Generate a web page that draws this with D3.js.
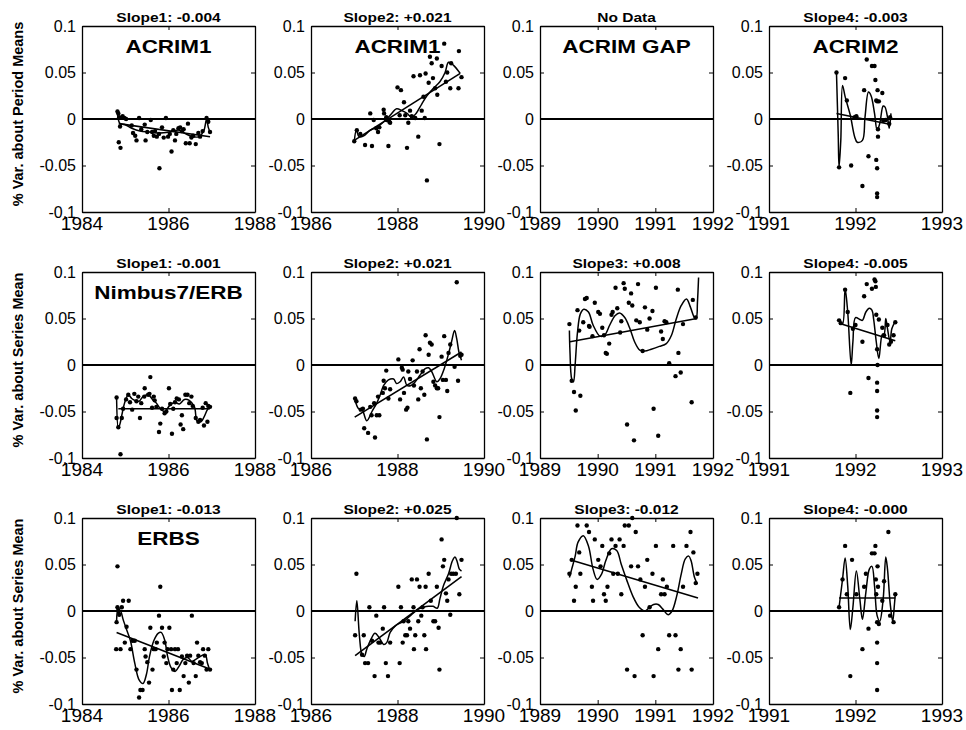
<!DOCTYPE html>
<html><head><meta charset="utf-8">
<script src="https://cdn.jsdelivr.net/npm/d3@7"></script>
<style>body{margin:0;background:#fff}svg{display:block;font-family:"Liberation Sans",Arial,Helvetica,sans-serif}</style>
</head><body><svg id="c" width="966" height="730"></svg>
<script>
// ---------------- DATA ----------------
const rowYLabels = ["% Var. about Period Means", "% Var. about Series Mean", "% Var. about Series Mean"];
const panelTitles = [
  ["Slope1: -0.004", "Slope2: +0.021", "No Data", "Slope4: -0.003"],
  ["Slope1: -0.001", "Slope2: +0.021", "Slope3: +0.008", "Slope4: -0.005"],
  ["Slope1: -0.013", "Slope2: +0.025", "Slope3: -0.012", "Slope4: -0.000"]
];
const panelNames = [
  ["ACRIM1", "ACRIM1", "ACRIM GAP", "ACRIM2"],
  ["Nimbus7/ERB", "", "", ""],
  ["ERBS", "", "", ""]
];
const xDomains = [[1984, 1988], [1986, 1990], [1989, 1992], [1991, 1993]];
const xTickValues = [[1984, 1986, 1988], [1986, 1988, 1990], [1989, 1990, 1991, 1992], [1991, 1992, 1993]];
const yTickValues = [-0.1, -0.05, 0, 0.05, 0.1];
const yTickLabels = ["-0.1", "-0.05", "0", "0.05", "0.1"];

// Row 1: ACRIM
const r1c1Dots = [[1984.82,0.008],[1984.84,0.006],[1984.86,0.002],[1984.88,-0.008],[1984.85,-0.025],[1984.89,-0.031],[1984.94,0.003],[1984.98,0.001],[1985.02,0.000],[1985.15,-0.007],[1985.18,-0.015],[1985.23,-0.018],[1985.26,-0.023],[1985.32,0.001],[1985.37,-0.011],[1985.45,-0.006],[1985.47,-0.023],[1985.51,-0.014],[1985.59,-0.001],[1985.62,-0.014],[1985.66,-0.018],[1985.69,-0.013],[1985.73,-0.019],[1985.78,-0.016],[1985.79,-0.053],[1985.85,-0.009],[1985.89,-0.020],[1985.94,0.001],[1985.99,-0.019],[1986.03,-0.016],[1986.07,-0.035],[1986.11,-0.012],[1986.15,-0.023],[1986.18,-0.016],[1986.23,-0.010],[1986.27,-0.009],[1986.31,-0.013],[1986.35,-0.011],[1986.40,-0.026],[1986.45,-0.005],[1986.49,-0.026],[1986.53,-0.020],[1986.57,-0.018],[1986.63,-0.027],[1986.69,-0.015],[1986.73,-0.019],[1986.79,-0.013],[1986.88,0.001],[1986.92,-0.003],[1986.96,-0.014]];
const r1c1Smooth = [[1984.82,0.006],[1984.88,-0.005],[1984.99,-0.006],[1985.15,-0.010],[1985.34,-0.013],[1985.56,-0.014],[1985.79,-0.015],[1986.02,-0.014],[1986.25,-0.012],[1986.40,-0.016],[1986.56,-0.019],[1986.71,-0.019],[1986.82,-0.012],[1986.88,0.000],[1986.92,-0.009],[1986.96,-0.014]];
const r1c1Trend = [[1984.85,-0.005],[1986.96,-0.019]];

const r1c2Dots = [[1987.0,-0.024],[1987.06,-0.012],[1987.14,-0.016],[1987.25,-0.028],[1987.37,0.006],[1987.41,-0.029],[1987.45,-0.001],[1987.51,-0.010],[1987.55,-0.014],[1987.58,-0.009],[1987.68,0.010],[1987.69,0.006],[1987.74,0.002],[1987.75,-0.001],[1987.79,-0.029],[1987.81,-0.003],[1987.83,-0.004],[1988.0,0.034],[1988.08,0.031],[1988.05,0.004],[1988.15,0.018],[1988.18,0.004],[1988.22,-0.031],[1988.25,-0.004],[1988.29,0.009],[1988.33,0.003],[1988.37,0.046],[1988.41,0.001],[1988.48,-0.019],[1988.52,0.047],[1988.56,0.009],[1988.6,0.024],[1988.63,0.001],[1988.65,0.049],[1988.68,-0.066],[1988.72,0.039],[1988.75,0.067],[1988.79,0.060],[1988.82,0.044],[1988.87,0.033],[1988.91,0.065],[1988.92,0.026],[1988.97,-0.027],[1989.02,0.057],[1989.08,0.081],[1989.12,0.040],[1989.15,0.050],[1989.22,0.033],[1989.24,0.060],[1989.41,0.033],[1989.42,0.073],[1989.48,0.045]];
const r1c2Smooth = [[1987.0,-0.024],[1987.05,-0.012],[1987.11,-0.019],[1987.22,-0.018],[1987.37,-0.012],[1987.52,-0.009],[1987.68,-0.003],[1987.83,0.004],[1987.98,0.011],[1988.10,0.009],[1988.22,0.006],[1988.33,0.002],[1988.43,0.006],[1988.56,0.016],[1988.68,0.025],[1988.83,0.033],[1988.98,0.040],[1989.10,0.050],[1989.18,0.061],[1989.29,0.058],[1989.45,0.049]];
const r1c2Trend = [[1987.0,-0.023],[1989.45,0.049]];

const r1c4Dots = [[1991.78,0.050],[1991.81,-0.052],[1991.88,0.044],[1991.90,0.020],[1991.95,-0.050],[1991.99,0.002],[1992.01,0.003],[1992.08,-0.072],[1992.10,0.031],[1992.13,0.064],[1992.15,-0.040],[1992.19,0.057],[1992.22,0.057],[1992.23,0.042],[1992.24,0.020],[1992.25,0.019],[1992.24,-0.044],[1992.25,-0.053],[1992.25,-0.080],[1992.25,-0.084],[1992.255,0.031],[1992.26,-0.019],[1992.27,0.019],[1992.26,-0.011],[1992.31,0.028],[1992.32,-0.002],[1992.35,-0.001],[1992.39,-0.005],[1992.40,0.002]];
const r1c4Smooth = [[1991.78,0.050],[1991.80,-0.016],[1991.81,-0.052],[1991.83,-0.023],[1991.85,0.036],[1991.88,0.024],[1991.94,0.004],[1991.99,-0.019],[1992.02,-0.025],[1992.08,-0.023],[1992.11,0.002],[1992.15,0.029],[1992.18,0.025],[1992.22,0.006],[1992.25,-0.012],[1992.28,-0.005],[1992.32,0.014],[1992.34,0.013],[1992.37,0.002],[1992.39,-0.010],[1992.41,0.006]];
const r1c4Trend = [[1991.78,0.006],[1992.41,-0.006]];

// Row 2: Nimbus7/ERB
const r2c1Dots = [[1984.80,-0.035],[1984.80,-0.057],[1984.84,-0.067],[1984.89,-0.096],[1984.92,-0.057],[1984.95,-0.047],[1985.02,-0.037],[1985.07,-0.032],[1985.11,-0.040],[1985.16,-0.048],[1985.21,-0.031],[1985.26,-0.039],[1985.30,-0.034],[1985.34,-0.057],[1985.37,-0.041],[1985.44,-0.034],[1985.45,-0.025],[1985.53,-0.032],[1985.56,-0.031],[1985.58,-0.013],[1985.62,-0.046],[1985.66,-0.034],[1985.68,-0.038],[1985.72,-0.045],[1985.78,-0.072],[1985.81,-0.063],[1985.85,-0.047],[1985.91,-0.052],[1985.95,-0.050],[1986.01,-0.025],[1986.04,-0.042],[1986.08,-0.074],[1986.11,-0.047],[1986.15,-0.040],[1986.19,-0.036],[1986.24,-0.037],[1986.28,-0.064],[1986.31,-0.054],[1986.34,-0.069],[1986.39,-0.032],[1986.44,-0.032],[1986.48,-0.041],[1986.53,-0.034],[1986.56,-0.044],[1986.63,-0.057],[1986.69,-0.061],[1986.73,-0.059],[1986.79,-0.046],[1986.82,-0.065],[1986.86,-0.041],[1986.90,-0.061],[1986.92,-0.044],[1986.96,-0.045]];
const r2c1Smooth = [[1984.80,-0.036],[1984.84,-0.068],[1984.88,-0.063],[1984.92,-0.054],[1984.99,-0.040],[1985.07,-0.032],[1985.15,-0.036],[1985.22,-0.038],[1985.32,-0.039],[1985.41,-0.034],[1985.53,-0.032],[1985.63,-0.037],[1985.72,-0.041],[1985.81,-0.047],[1985.91,-0.050],[1986.02,-0.044],[1986.14,-0.040],[1986.25,-0.042],[1986.37,-0.037],[1986.48,-0.038],[1986.60,-0.045],[1986.66,-0.060],[1986.75,-0.061],[1986.82,-0.056],[1986.90,-0.048],[1986.96,-0.045]];
const r2c1Trend = [[1984.84,-0.047],[1986.96,-0.047]];

const r2c2Dots = [[1987.02,-0.036],[1987.05,-0.039],[1987.15,-0.048],[1987.20,-0.047],[1987.23,-0.068],[1987.32,-0.073],[1987.37,-0.045],[1987.40,-0.054],[1987.46,-0.041],[1987.48,-0.078],[1987.52,-0.054],[1987.58,-0.054],[1987.55,-0.034],[1987.66,-0.030],[1987.68,-0.017],[1987.71,-0.025],[1987.74,-0.006],[1987.79,-0.036],[1987.83,-0.026],[1988.02,0.006],[1988.06,-0.037],[1988.10,-0.003],[1988.12,-0.005],[1988.15,-0.030],[1988.20,-0.048],[1988.23,-0.046],[1988.25,-0.007],[1988.29,-0.015],[1988.35,0.005],[1988.38,-0.022],[1988.45,-0.007],[1988.48,-0.037],[1988.51,0.017],[1988.54,-0.025],[1988.58,-0.007],[1988.62,-0.032],[1988.65,0.032],[1988.68,-0.080],[1988.72,0.011],[1988.75,0.024],[1988.79,0.022],[1988.83,-0.018],[1988.87,-0.022],[1988.91,-0.025],[1988.94,-0.025],[1988.97,-0.056],[1989.02,0.009],[1989.05,-0.016],[1989.08,0.031],[1989.12,-0.016],[1989.15,-0.028],[1989.18,0.013],[1989.22,0.022],[1989.32,-0.002],[1989.37,0.089],[1989.40,-0.017],[1989.45,0.010],[1989.48,0.011]];
const r2c2Smooth = [[1987.01,-0.036],[1987.10,-0.047],[1987.18,-0.048],[1987.29,-0.060],[1987.41,-0.050],[1987.52,-0.041],[1987.60,-0.032],[1987.68,-0.022],[1987.79,-0.016],[1987.91,-0.015],[1987.98,-0.020],[1988.06,-0.018],[1988.14,-0.013],[1988.22,-0.022],[1988.31,-0.022],[1988.41,-0.018],[1988.52,-0.011],[1988.64,-0.004],[1988.72,-0.003],[1988.79,-0.007],[1988.91,-0.018],[1988.98,-0.015],[1989.08,-0.004],[1989.18,0.012],[1989.25,0.025],[1989.32,0.037],[1989.37,0.028],[1989.42,0.014],[1989.48,0.005]];
const r2c2Trend = [[1987.01,-0.056],[1989.48,0.014]];

const r2c3Dots = [[1989.51,0.044],[1989.55,-0.017],[1989.59,-0.029],[1989.62,-0.049],[1989.65,0.059],[1989.68,0.037],[1989.70,-0.033],[1989.75,0.046],[1989.78,0.071],[1989.81,0.072],[1989.85,0.042],[1989.86,0.041],[1989.91,0.031],[1989.95,0.067],[1990.01,0.057],[1990.04,0.055],[1990.08,0.040],[1990.11,0.032],[1990.14,0.013],[1990.16,0.012],[1990.20,0.023],[1990.24,0.054],[1990.26,0.057],[1990.31,0.083],[1990.34,0.061],[1990.39,0.035],[1990.41,0.047],[1990.45,0.088],[1990.47,0.082],[1990.51,-0.064],[1990.54,0.067],[1990.58,0.077],[1990.60,0.064],[1990.63,-0.081],[1990.67,0.048],[1990.70,0.087],[1990.73,0.046],[1990.78,0.015],[1990.82,0.062],[1990.86,0.038],[1990.90,0.050],[1990.95,0.058],[1990.97,-0.047],[1991.01,0.083],[1991.05,-0.076],[1991.10,0.036],[1991.13,0.028],[1991.16,0.047],[1991.19,0.046],[1991.24,0.002],[1991.35,-0.012],[1991.39,0.081],[1991.40,0.013],[1991.44,-0.008],[1991.48,0.044],[1991.63,-0.040],[1991.65,0.070],[1991.70,0.051]];
const r2c3Smooth = [[1989.51,0.037],[1989.52,0.014],[1989.55,-0.015],[1989.58,-0.018],[1989.61,0.001],[1989.65,0.035],[1989.70,0.055],[1989.76,0.060],[1989.84,0.057],[1989.92,0.043],[1990.04,0.031],[1990.12,0.032],[1990.21,0.043],[1990.30,0.053],[1990.38,0.056],[1990.47,0.051],[1990.56,0.039],[1990.64,0.025],[1990.73,0.016],[1990.82,0.015],[1990.93,0.017],[1991.07,0.020],[1991.19,0.023],[1991.28,0.032],[1991.36,0.049],[1991.45,0.064],[1991.54,0.071],[1991.61,0.062],[1991.68,0.051],[1991.71,0.051],[1991.73,0.067],[1991.75,0.094]];
const r2c3Trend = [[1989.52,0.025],[1991.72,0.050]];

const r2c4Dots = [[1991.81,0.048],[1991.83,0.045],[1991.88,0.081],[1991.91,0.057],[1991.94,-0.030],[1991.97,0.039],[1992.00,0.043],[1992.08,0.025],[1992.10,0.074],[1992.13,0.087],[1992.15,-0.014],[1992.19,0.082],[1992.22,0.092],[1992.23,0.090],[1992.235,0.084],[1992.24,0.054],[1992.25,-0.019],[1992.25,-0.028],[1992.25,-0.049],[1992.25,-0.056],[1992.255,0.000],[1992.25,0.017],[1992.27,0.049],[1992.31,0.040],[1992.33,0.032],[1992.37,0.043],[1992.39,0.022],[1992.41,0.025],[1992.44,0.032],[1992.46,0.046]];
const r2c4Smooth = [[1991.81,0.048],[1991.85,0.044],[1991.88,0.082],[1991.91,0.057],[1991.95,0.000],[1991.97,0.025],[1992.00,0.051],[1992.05,0.049],[1992.08,0.048],[1992.12,0.057],[1992.16,0.061],[1992.19,0.059],[1992.21,0.049],[1992.24,0.025],[1992.27,0.007],[1992.31,0.033],[1992.33,0.033],[1992.35,0.050],[1992.37,0.039],[1992.40,0.025],[1992.42,0.039],[1992.46,0.047]];
const r2c4Trend = [[1991.81,0.045],[1992.46,0.026]];

// Row 3: ERBS
const r3c1Dots = [[1984.82,0.048],[1984.80,-0.012],[1984.79,-0.041],[1984.82,0.004],[1984.84,0.001],[1984.86,-0.004],[1984.89,-0.041],[1984.92,0.004],[1984.95,0.011],[1984.99,-0.034],[1985.03,-0.017],[1985.08,0.011],[1985.12,-0.041],[1985.17,-0.032],[1985.22,-0.032],[1985.26,-0.063],[1985.32,-0.093],[1985.35,-0.085],[1985.40,-0.085],[1985.45,-0.041],[1985.47,-0.049],[1985.51,-0.055],[1985.55,-0.077],[1985.58,-0.018],[1985.63,-0.063],[1985.66,-0.041],[1985.70,-0.041],[1985.73,-0.034],[1985.78,-0.005],[1985.81,0.026],[1985.85,-0.018],[1985.89,-0.049],[1985.91,-0.034],[1985.95,-0.056],[1985.98,-0.041],[1986.02,-0.018],[1986.06,-0.041],[1986.08,-0.085],[1986.11,-0.063],[1986.15,-0.041],[1986.19,-0.056],[1986.22,-0.041],[1986.26,-0.085],[1986.31,-0.049],[1986.35,-0.070],[1986.39,-0.056],[1986.43,-0.048],[1986.47,-0.077],[1986.50,-0.048],[1986.54,-0.005],[1986.58,-0.056],[1986.63,-0.070],[1986.66,-0.034],[1986.69,-0.048],[1986.73,-0.055],[1986.77,-0.056],[1986.80,-0.041],[1986.84,-0.048],[1986.88,-0.063],[1986.92,-0.041],[1986.96,-0.063]];
const r3c1Smooth = [[1984.80,-0.011],[1984.82,0.001],[1984.85,-0.003],[1984.89,0.000],[1984.95,-0.009],[1985.03,-0.020],[1985.12,-0.032],[1985.22,-0.056],[1985.32,-0.074],[1985.41,-0.078],[1985.49,-0.068],[1985.56,-0.049],[1985.66,-0.032],[1985.76,-0.024],[1985.83,-0.023],[1985.91,-0.031],[1985.98,-0.049],[1986.06,-0.061],[1986.15,-0.065],[1986.25,-0.059],[1986.34,-0.052],[1986.44,-0.050],[1986.54,-0.054],[1986.63,-0.052],[1986.73,-0.049],[1986.85,-0.047],[1986.90,-0.056],[1986.95,-0.063]];
const r3c1Trend = [[1984.80,-0.023],[1986.98,-0.063]];

const r3c2Dots = [[1987.05,0.040],[1987.02,-0.026],[1987.18,-0.047],[1987.22,-0.026],[1987.25,-0.056],[1987.32,-0.056],[1987.35,0.004],[1987.41,-0.032],[1987.47,-0.070],[1987.51,-0.005],[1987.56,-0.034],[1987.60,-0.034],[1987.66,-0.019],[1987.69,0.004],[1987.73,-0.056],[1987.78,-0.070],[1987.83,-0.034],[1988.02,0.026],[1988.05,-0.056],[1988.08,0.004],[1988.12,-0.034],[1988.14,-0.011],[1988.18,-0.026],[1988.22,-0.026],[1988.25,-0.011],[1988.29,-0.019],[1988.33,0.034],[1988.37,0.004],[1988.38,-0.041],[1988.41,-0.026],[1988.45,0.034],[1988.48,-0.011],[1988.51,0.026],[1988.55,-0.005],[1988.58,0.004],[1988.62,-0.026],[1988.65,0.026],[1988.66,-0.041],[1988.72,0.040],[1988.77,0.011],[1988.83,-0.011],[1988.87,-0.011],[1988.91,0.026],[1988.95,-0.018],[1988.97,-0.063],[1989.02,0.077],[1989.05,0.048],[1989.08,0.055],[1989.12,0.019],[1989.15,0.011],[1989.18,0.034],[1989.22,-0.004],[1989.24,0.040],[1989.29,0.040],[1989.35,0.040],[1989.37,0.100],[1989.43,0.018],[1989.48,0.055]];
const r3c2Smooth = [[1987.02,-0.011],[1987.06,0.011],[1987.12,-0.027],[1987.18,-0.047],[1987.23,-0.049],[1987.29,-0.041],[1987.38,-0.031],[1987.48,-0.024],[1987.58,-0.029],[1987.68,-0.036],[1987.75,-0.034],[1987.83,-0.023],[1987.95,-0.016],[1988.06,-0.013],[1988.15,-0.011],[1988.25,-0.007],[1988.37,-0.002],[1988.48,0.002],[1988.60,0.004],[1988.72,0.005],[1988.82,0.005],[1988.92,0.003],[1988.98,0.013],[1989.06,0.027],[1989.18,0.040],[1989.27,0.054],[1989.33,0.058],[1989.38,0.053],[1989.43,0.045],[1989.48,0.043]];
const r3c2Trend = [[1987.02,-0.048],[1989.48,0.037]];

const r3c3Dots = [[1989.51,0.040],[1989.55,0.055],[1989.59,0.011],[1989.62,0.026],[1989.65,0.092],[1989.68,0.063],[1989.70,0.040],[1989.81,0.092],[1989.85,0.085],[1989.90,0.026],[1989.92,0.011],[1989.95,0.077],[1990.01,0.055],[1990.05,0.048],[1990.08,0.070],[1990.11,0.018],[1990.14,0.011],[1990.17,0.026],[1990.20,0.062],[1990.24,0.077],[1990.27,0.040],[1990.31,0.070],[1990.35,0.040],[1990.38,0.077],[1990.41,0.018],[1990.45,0.070],[1990.47,0.092],[1990.51,-0.063],[1990.54,0.092],[1990.58,0.048],[1990.60,0.100],[1990.64,-0.070],[1990.66,0.085],[1990.70,0.048],[1990.74,0.034],[1990.78,-0.026],[1990.82,0.026],[1990.86,0.055],[1990.90,0.004],[1990.95,0.040],[1990.97,-0.070],[1991.01,0.070],[1991.05,-0.041],[1991.10,0.018],[1991.13,0.034],[1991.16,0.018],[1991.20,0.026],[1991.24,-0.026],[1991.31,0.070],[1991.35,-0.026],[1991.40,-0.063],[1991.44,-0.041],[1991.48,0.026],[1991.54,0.070],[1991.61,0.085],[1991.63,-0.063],[1991.66,0.063],[1991.70,0.030],[1991.73,0.040]];
const r3c3Smooth = [[1989.51,0.036],[1989.55,0.045],[1989.61,0.059],[1989.66,0.074],[1989.75,0.081],[1989.84,0.070],[1989.92,0.045],[1989.99,0.034],[1990.07,0.040],[1990.14,0.054],[1990.24,0.067],[1990.33,0.065],[1990.41,0.050],[1990.50,0.034],[1990.61,0.016],[1990.72,0.004],[1990.82,0.000],[1990.90,0.004],[1990.97,0.007],[1991.05,0.007],[1991.13,0.002],[1991.22,-0.004],[1991.29,0.000],[1991.37,0.016],[1991.45,0.040],[1991.52,0.056],[1991.58,0.059],[1991.62,0.054],[1991.68,0.036],[1991.73,0.029]];
const r3c3Trend = [[1989.52,0.055],[1991.74,0.014]];

const r3c4Dots = [[1991.81,0.004],[1991.85,0.034],[1991.88,0.070],[1991.90,0.018],[1991.94,-0.070],[1991.96,0.055],[1992.01,0.018],[1992.08,-0.041],[1992.10,0.026],[1992.12,0.040],[1992.15,-0.019],[1992.19,0.062],[1992.22,0.062],[1992.23,0.070],[1992.235,0.034],[1992.24,0.018],[1992.25,-0.012],[1992.25,-0.034],[1992.25,-0.056],[1992.25,-0.085],[1992.255,0.048],[1992.26,0.026],[1992.27,-0.014],[1992.31,0.011],[1992.33,0.032],[1992.38,0.085],[1992.40,-0.005],[1992.44,-0.012],[1992.46,0.018]];
const r3c4Smooth = [[1991.81,0.004],[1991.85,0.034],[1991.88,0.057],[1991.91,0.027],[1991.94,-0.020],[1991.97,0.004],[1992.01,0.043],[1992.05,0.013],[1992.08,-0.009],[1992.12,0.020],[1992.16,0.045],[1992.19,0.048],[1992.22,0.027],[1992.25,-0.005],[1992.28,-0.011],[1992.32,0.013],[1992.35,0.058],[1992.37,0.045],[1992.40,0.009],[1992.43,-0.011],[1992.45,0.007],[1992.46,0.018]];
const r3c4Trend = [[1991.81,0.014],[1992.46,0.014]];

const panelDots = [[r1c1Dots, r1c2Dots, [], r1c4Dots],[r2c1Dots, r2c2Dots, r2c3Dots, r2c4Dots],[r3c1Dots, r3c2Dots, r3c3Dots, r3c4Dots]];
const panelSmooth = [[r1c1Smooth, r1c2Smooth, [], r1c4Smooth],[r2c1Smooth, r2c2Smooth, r2c3Smooth, r2c4Smooth],[r3c1Smooth, r3c2Smooth, r3c3Smooth, r3c4Smooth]];
const panelTrend = [[r1c1Trend, r1c2Trend, [], r1c4Trend],[r2c1Trend, r2c2Trend, r2c3Trend, r2c4Trend],[r3c1Trend, r3c2Trend, r3c3Trend, r3c4Trend]];

// ---------------- LAYOUT ----------------
const svg = d3.select("#c");
const colLeft = [82, 311, 540, 769];
const rowTop = [26, 272, 518];
const PW = 173, PH = 186;

function txt(g, x, y, s, size, weight, anchor, sx, rot) {
  let t = `translate(${x},${y}) scale(${sx || 1},1)`;
  if (rot) t += ` rotate(${rot})`;
  return g.append("text").attr("transform", t)
    .attr("font-size", size).attr("font-weight", weight || "normal")
    .attr("text-anchor", anchor || "middle").attr("fill", "#000").text(s);
}

for (let r = 0; r < 3; r++) {
  // row y label
  txt(svg, 23, rowTop[r] + PH / 2 - 5, rowYLabels[r], 14.5, "bold", "middle", 1, -90);
  for (let c = 0; c < 4; c++) {
    const g = svg.append("g").attr("transform", `translate(${colLeft[c]},${rowTop[r]})`);
    const x = d3.scaleLinear().domain(xDomains[c]).range([0, PW]);
    const y = d3.scaleLinear().domain([-0.1, 0.1]).range([PH, 0]);

    // zero line
    g.append("line").attr("x1", 0).attr("x2", PW).attr("y1", y(0)).attr("y2", y(0))
      .attr("stroke", "#000").attr("stroke-width", 2);

    // axes (inward ticks on all sides)
    const ax = [
      [d3.axisBottom(x).tickValues(xTickValues[c]).tickSizeInner(-4).tickSizeOuter(0).tickFormat(""), `translate(0,${PH})`],
      [d3.axisTop(x).tickValues(xTickValues[c]).tickSizeInner(-4).tickSizeOuter(0).tickFormat(""), `translate(0,0)`],
      [d3.axisLeft(y).tickValues(yTickValues).tickSizeInner(-4).tickSizeOuter(0).tickFormat(""), `translate(0,0)`],
      [d3.axisRight(y).tickValues(yTickValues).tickSizeInner(-4).tickSizeOuter(0).tickFormat(""), `translate(${PW},0)`]
    ];
    ax.forEach(([a, tr]) => {
      const ag = g.append("g").attr("transform", tr).call(a);
      ag.select(".domain").attr("stroke", "#000").attr("stroke-width", 1.3);
      ag.selectAll(".tick line").attr("stroke", "#000").attr("stroke-width", 1);
    });

    // tick labels
    xTickValues[c].forEach(v => txt(g, x(v), PH + 18, String(v), 19, "normal", "middle", 1));
    yTickValues.forEach((v, i) => txt(g, -6, y(v) + 5.5, yTickLabels[i], 16, "normal", "end", 1));

    // title
    txt(g, PW / 2, -4, panelTitles[r][c], 13.5, "bold", "middle", 1.15);
    if (panelNames[r][c]) txt(g, PW / 2, 27, panelNames[r][c], 18, "bold", "middle", 1.25);

    const line = d3.line().x(d => x(d[0])).y(d => y(d[1]));
    // dots
    g.selectAll("circle.d").data(panelDots[r][c]).enter().append("circle")
      .attr("cx", d => x(d[0])).attr("cy", d => y(d[1])).attr("r", 2.2).attr("fill", "#000");
    // trend
    if (panelTrend[r][c].length)
      g.append("path").attr("d", line(panelTrend[r][c])).attr("fill", "none")
        .attr("stroke", "#000").attr("stroke-width", 1.6);
    // smooth
    if (panelSmooth[r][c].length)
      g.append("path").attr("d", line.curve(d3.curveCatmullRom.alpha(0.5))(panelSmooth[r][c]))
        .attr("fill", "none").attr("stroke", "#000").attr("stroke-width", 1.5);
  }
}
</script></body></html>
